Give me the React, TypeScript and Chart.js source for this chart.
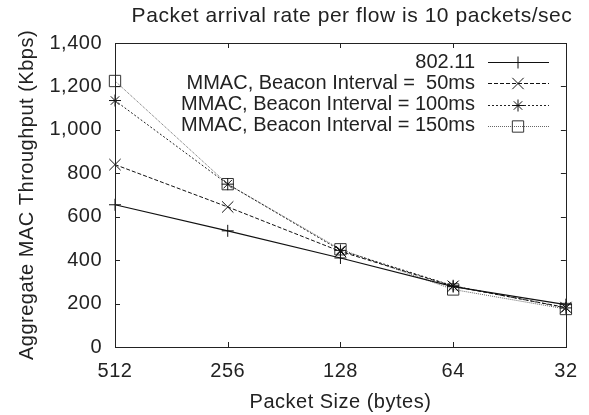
import React, { useEffect, useRef } from "react";
import { Chart, registerables } from "chart.js";
import { drawPoint } from "chart.js/helpers";

Chart.register(...registerables);

const categories = ["512", "256", "128", "64", "32"];
const s80211 = [655, 535, 410, 278, 195];
const s50 = [840, 645, 440, 280, 182];
const s100 = [1135, 750, 445, 282, 180];
const s150 = [1225, 750, 450, 265, 175];
const seriesLabels = [
  "802.11",
  "MMAC, Beacon Interval =  50ms",
  "MMAC, Beacon Interval = 100ms",
  "MMAC, Beacon Interval = 150ms",
];
const yTicks = [0, 200, 400, 600, 800, 1000, 1200, 1400];
const titleText = "Packet arrival rate per flow is 10 packets/sec";
const xTitle = "Packet Size (bytes)";
const yTitle = "Aggregate MAC Throughput (Kbps)";

const FONT = "'Liberation Sans', Arial, Helvetica, sans-serif";
const FS = 20;
const TXT = "#222";

const spacingPlugin = {
  id: "spacingPlugin",
  beforeDraw(chart: any) {
    (chart.ctx as any).letterSpacing = "0.5px";
  },
};

const framePlugin = {
  id: "framePlugin",
  afterDraw(chart: any) {
    const ctx = chart.ctx as CanvasRenderingContext2D;
    const a = chart.chartArea;
    const xs = chart.scales.x;
    const ys = chart.scales.y;
    ctx.save();
    ctx.strokeStyle = "#222";
    ctx.lineWidth = 1;
    ctx.setLineDash([]);
    ctx.strokeRect(Math.round(a.left) + 0.5, Math.round(a.top) + 0.5, Math.round(a.right - a.left), Math.round(a.bottom - a.top));
    const tl = 5;
    ctx.beginPath();
    for (let i = 0; i < categories.length; i++) {
      const x = Math.round(xs.getPixelForValue(i)) + 0.5;
      ctx.moveTo(x, a.bottom);
      ctx.lineTo(x, a.bottom - tl);
      ctx.moveTo(x, a.top);
      ctx.lineTo(x, a.top + tl);
    }
    for (const v of yTicks) {
      const y = Math.round(ys.getPixelForValue(v)) + 0.5;
      ctx.moveTo(a.left, y);
      ctx.lineTo(a.left + tl, y);
      ctx.moveTo(a.right, y);
      ctx.lineTo(a.right - tl, y);
    }
    ctx.stroke();

    // titles
    ctx.fillStyle = TXT;
    ctx.textAlign = "center";
    ctx.textBaseline = "middle";
    (ctx as any).letterSpacing = "0.55px";
    ctx.font = `21px ${FONT}`;
    ctx.fillText(titleText, 352, 16);
    (ctx as any).letterSpacing = "0.5px";
    ctx.font = `${FS}px ${FONT}`;
    ctx.fillText(xTitle, (a.left + a.right) / 2, 402);
    ctx.save();
    ctx.translate(27, (a.top + a.bottom) / 2);
    ctx.rotate(-Math.PI / 2);
    ctx.fillText(yTitle, 0, 0);
    ctx.restore();

    // legend
    (ctx as any).letterSpacing = "0px";
    ctx.font = `${FS}px ${FONT}`;
    const ds = chart.data.datasets;
    for (let i = 0; i < ds.length; i++) {
      const d = ds[i];
      const y = 62 + i * 21.3;
      ctx.fillStyle = TXT;
      ctx.textAlign = "right";
      ctx.fillText(d.label, 475, y);
      ctx.strokeStyle = d.borderColor;
      ctx.lineWidth = d.borderWidth;
      ctx.setLineDash(d.borderDash || []);
      ctx.beginPath();
      ctx.moveTo(488, Math.round(y) + 0.5);
      ctx.lineTo(549, Math.round(y) + 0.5);
      ctx.stroke();
      ctx.setLineDash([]);
      ctx.strokeStyle = d.pointBorderColor;
      ctx.fillStyle = "rgba(0,0,0,0)";
      ctx.lineWidth = 1;
      drawPoint(ctx, { pointStyle: d.pointStyle, radius: d.pointRadius, rotation: 0, borderWidth: 1 } as any, 518, Math.round(y) + 0.5);
    }
    ctx.restore();
  },
};

export default function App() {
  const ref = useRef<HTMLCanvasElement | null>(null);
  useEffect(() => {
    document.body.style.margin = "0";
    const mk = (label: string, data: number[], color: string, dash: number[], style: string, r: number, width: number, ptColor: string) => ({
      label,
      data,
      borderColor: color,
      borderWidth: width,
      borderDash: dash,
      pointStyle: style,
      pointRadius: r,
      pointBorderColor: ptColor,
      pointBackgroundColor: "rgba(0,0,0,0)",
      pointBorderWidth: 1,
      fill: false,
      tension: 0,
    });
    const chart = new Chart(ref.current!, {
      type: "line",
      data: {
        labels: categories,
        datasets: [
          mk(seriesLabels[0], s80211, "#111", [], "cross", 6, 1.2, "#111"),
          mk(seriesLabels[1], s50, "#111", [4, 2], "crossRot", 8, 1, "#111"),
          mk(seriesLabels[2], s100, "#222", [2, 2], "star", 6, 1, "#111"),
          mk(seriesLabels[3], s150, "#666", [1, 1], "rect", 8, 1, "#333"),
        ] as any,
      },
      options: {
        animation: false,
        responsive: false,
        devicePixelRatio: 1,
        layout: { padding: { top: 43, right: 14, left: 0, bottom: 0 } },
        plugins: { legend: { display: false }, title: { display: false }, tooltip: { enabled: false } },
        scales: {
          x: {
            type: "category",
            offset: false,
            grid: { display: false, drawTicks: false },
            border: { display: false },
            ticks: { color: TXT, font: { family: FONT, size: FS }, padding: 12, maxRotation: 0, autoSkip: false },
            afterFit: (s: any) => { s.height = 68; },
          },
          y: {
            min: 0,
            max: 1400,
            grid: { display: false, drawTicks: false },
            border: { display: false },
            ticks: {
              stepSize: 200,
              color: TXT,
              font: { family: FONT, size: FS },
              padding: 13,
              callback: (v: any) => Number(v).toLocaleString("en-US"),
            },
            afterFit: (s: any) => { s.width = 115; },
          },
        },
      } as any,
      plugins: [spacingPlugin, framePlugin],
    });
    return () => chart.destroy();
  }, []);
  return (
    <div style={{ width: 589, height: 415, background: "#fff" }}>
      <canvas ref={ref} width={589} height={415} style={{ display: "block" }} />
    </div>
  );
}
